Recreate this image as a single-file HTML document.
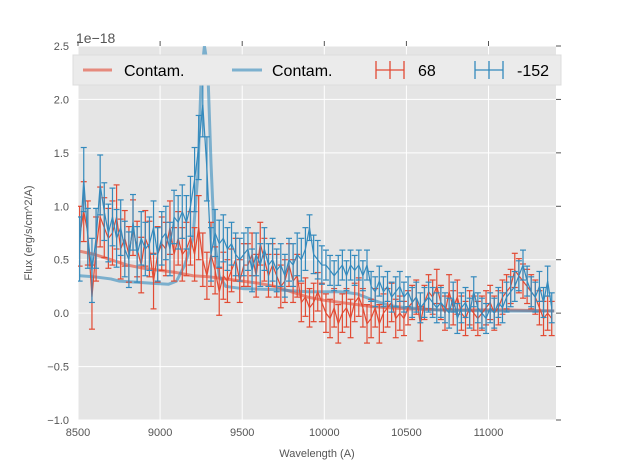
<!DOCTYPE html>
<html><head><meta charset="utf-8"><style>
body{margin:0;background:#fff;font-family:"Liberation Sans",sans-serif}
svg text{font-family:"Liberation Sans",sans-serif}
</style></head><body>
<svg id="chart" width="617" height="467" viewBox="0 0 617 467">
<defs><clipPath id="pc"><rect x="78" y="46" width="478" height="374"/></clipPath></defs>
<rect x="78" y="46" width="478" height="374" fill="#e5e5e5"/>
<g id="grid"></g><g id="axes"></g>
<g id="series" clip-path="url(#pc)"></g>
<text x="76" y="43" font-size="14" fill="#555">1e−18</text>
<text x="317" y="457" font-size="11" fill="#555" text-anchor="middle">Wavelength (A)</text>
<text x="32" y="233" font-size="11" fill="#555" text-anchor="middle" transform="rotate(-90 32 233)">Flux (erg/s/cm^2/A)</text>
<g>
<rect x="73" y="55" width="488" height="30" fill="#ebebeb" stroke="#dddddd"/>
<g><line x1="83" y1="70" x2="112" y2="70" stroke="#E24A33" stroke-opacity="0.6" stroke-width="3"/><text x="124" y="76" font-size="16">Contam.</text></g>
<g><line x1="232" y1="70" x2="262" y2="70" stroke="#348ABD" stroke-opacity="0.6" stroke-width="3"/><text x="272" y="76" font-size="16">Contam.</text></g>
<g stroke="#E24A33" stroke-width="1.3"><line x1="376" y1="70" x2="404" y2="70"/><line x1="390" y1="61" x2="390" y2="79"/><line x1="376" y1="61" x2="376" y2="79"/><line x1="404" y1="61" x2="404" y2="79"/><text x="418" y="76" font-size="16" stroke="none" fill="#000">68</text></g>
<g stroke="#348ABD" stroke-width="1.3"><line x1="475" y1="70" x2="503" y2="70"/><line x1="489" y1="61" x2="489" y2="79"/><line x1="475" y1="61" x2="475" y2="79"/><line x1="503" y1="61" x2="503" y2="79"/><text x="517" y="76" font-size="16" stroke="none" fill="#000">-152</text></g>
</g>
</svg>
<script>
const xTicks=[8500,9000,9500,10000,10500,11000];
const yTicks=[-1.0,-0.5,0.0,0.5,1.0,1.5,2.0,2.5];
const wlStart=8510, wlStep=25;
const red68=[0.72,0.95,0.75,0.15,0.6,0.9,0.8,0.7,0.75,0.9,0.6,0.7,0.55,0.8,0.6,0.45,0.7,0.6,0.3,0.55,0.65,0.6,0.8,0.55,0.7,0.55,0.6,0.7,0.55,0.8,0.5,0.35,0.55,0.4,0.2,0.35,0.3,0.4,0.5,0.3,0.45,0.45,0.55,0.35,0.65,0.5,0.35,0.45,0.35,0.25,0.3,0.45,0.3,0.35,0.1,0.15,0.05,0.1,0.2,0.1,0.0,-0.05,0.05,-0.1,0.0,0.05,-0.05,0.1,0.15,0.05,-0.1,-0.05,0.05,-0.1,0.0,0.05,0.1,-0.05,0.0,-0.05,0.05,0.1,0.15,-0.1,0.1,0.2,0.15,0.25,0.1,0.0,0.2,0.05,0.15,0.0,-0.05,0.05,0.0,-0.05,0.0,0.05,0.1,0.0,0.05,0.15,0.2,0.25,0.4,0.35,0.3,0.25,0.2,0.15,0.05,-0.05,0.0,-0.05];
const red68Err=[0.28,0.28,0.3,0.3,0.3,0.28,0.28,0.28,0.3,0.3,0.28,0.26,0.26,0.26,0.26,0.26,0.26,0.26,0.26,0.26,0.25,0.25,0.25,0.25,0.25,0.25,0.25,0.25,0.25,0.3,0.25,0.22,0.3,0.22,0.22,0.22,0.2,0.2,0.2,0.2,0.2,0.2,0.2,0.2,0.2,0.2,0.2,0.2,0.2,0.2,0.2,0.2,0.2,0.2,0.18,0.18,0.18,0.18,0.18,0.18,0.18,0.18,0.18,0.18,0.18,0.18,0.18,0.18,0.18,0.18,0.18,0.18,0.18,0.18,0.18,0.18,0.18,0.18,0.16,0.16,0.16,0.16,0.16,0.16,0.16,0.16,0.16,0.16,0.16,0.16,0.16,0.16,0.16,0.16,0.16,0.16,0.16,0.16,0.16,0.16,0.16,0.16,0.16,0.16,0.16,0.16,0.16,0.16,0.16,0.16,0.16,0.16,0.16,0.16,0.16,0.16];
const blue152=[0.6,1.25,0.7,0.4,0.7,1.2,0.95,0.75,0.9,0.7,0.8,0.6,0.5,0.85,0.55,0.7,0.6,0.65,0.8,0.55,0.7,0.75,0.6,0.9,0.85,0.95,0.85,1.0,1.25,1.55,1.95,1.35,0.55,0.75,0.65,0.7,0.6,0.65,0.55,0.5,0.55,0.6,0.4,0.55,0.45,0.6,0.45,0.5,0.4,0.45,0.35,0.5,0.45,0.55,0.5,0.6,0.8,0.55,0.5,0.45,0.45,0.4,0.35,0.4,0.45,0.35,0.45,0.4,0.45,0.35,0.45,0.25,0.2,0.3,0.2,0.25,0.15,0.2,0.25,0.15,0.2,0.1,0.15,0.05,0.1,0.15,0.1,0.05,0.1,0.05,0.0,0.15,-0.05,0.05,0.1,0.0,0.2,0.05,0.0,-0.05,0.05,0.0,0.1,0.05,0.15,0.2,0.25,0.35,0.45,0.3,0.2,0.15,0.25,0.1,0.3,0.05];
const blue152Err=[0.3,0.3,0.28,0.3,0.28,0.28,0.27,0.27,0.27,0.27,0.26,0.26,0.26,0.26,0.26,0.25,0.25,0.25,0.25,0.25,0.25,0.25,0.25,0.25,0.25,0.25,0.25,0.28,0.3,0.3,0.3,0.3,0.25,0.22,0.22,0.22,0.2,0.2,0.2,0.2,0.2,0.2,0.2,0.2,0.2,0.2,0.2,0.2,0.2,0.2,0.2,0.2,0.2,0.2,0.2,0.2,0.12,0.18,0.18,0.18,0.14,0.14,0.14,0.14,0.14,0.14,0.14,0.14,0.14,0.14,0.14,0.14,0.14,0.14,0.14,0.14,0.14,0.14,0.14,0.14,0.14,0.14,0.14,0.14,0.14,0.14,0.14,0.14,0.14,0.14,0.14,0.14,0.14,0.14,0.14,0.14,0.14,0.14,0.14,0.14,0.14,0.14,0.14,0.14,0.14,0.14,0.14,0.14,0.14,0.14,0.14,0.14,0.14,0.14,0.14,0.14];
const contamRedWl=[8510,8600,8700,8800,8900,9000,9100,9200,9300,9400,9500,9600,9700,9800,9900,10000,10100,10200,10300,10400,10500,10700,10900,11100,11400];
const contamRedVal=[0.58,0.55,0.5,0.45,0.42,0.4,0.38,0.35,0.34,0.32,0.3,0.28,0.25,0.2,0.15,0.12,0.1,0.08,0.06,0.05,0.04,0.03,0.03,0.03,0.02];
const contamBlueWl=[8510,8600,8700,8750,8850,8950,9050,9100,9150,9200,9230,9250,9270,9290,9310,9330,9360,9400,9500,9700,9800,9900,10000,10100,10200,10300,10400,10500,10700,11000,11400];
const contamBlueVal=[0.35,0.34,0.32,0.3,0.29,0.28,0.27,0.3,0.45,0.7,1.3,2.2,2.5,2.3,1.4,0.7,0.35,0.25,0.23,0.22,0.21,0.2,0.2,0.2,0.18,0.12,0.07,0.05,0.03,0.02,0.02];

const X0=78,X1=556,Y0=420,Y1=46;
const xS=v=>X0+(v-8500)/(11411-8500)*(X1-X0);
const yS=v=>Y0-(v+1.0)/3.5*(Y0-Y1);
const NS="http://www.w3.org/2000/svg";
function mk(tag,attrs,parent){const e=document.createElementNS(NS,tag);for(const k in attrs)e.setAttribute(k,attrs[k]);parent.appendChild(e);return e;}
const grid=document.getElementById('grid'),axes=document.getElementById('axes'),ser=document.getElementById('series');
xTicks.forEach(t=>{const x=xS(t);
 const g=mk('line',{x1:x,x2:x,y1:Y1,y2:Y0,stroke:'#fff','stroke-width':1},grid);
 
 
 mk('line',{x1:x,x2:x,y1:Y1,y2:Y1-5,stroke:'#555'},axes);
 const tx=mk('text',{x:x,y:Y0+16,'font-size':11,fill:'#555','text-anchor':'middle'},axes);tx.textContent=t;
 
 });
yTicks.forEach(t=>{const y=yS(t);
 const g=mk('line',{x1:X0,x2:X1,y1:y,y2:y,stroke:'#fff','stroke-width':1},grid);
 
 
 mk('line',{x1:X1,x2:X1+5,y1:y,y2:y,stroke:'#555'},axes);
 const tx=mk('text',{x:X0-9,y:y+4,'font-size':11,fill:'#555','text-anchor':'end'},axes);tx.textContent=(t<0?'−':'')+Math.abs(t).toFixed(1);
 
 });
function line(wl,val,color,name){const p=mk('polyline',{points:wl.map((w,i)=>xS(w)+','+yS(val[i])).join(' '),fill:'none',stroke:color,'stroke-opacity':0.6,'stroke-width':3,'stroke-linejoin':'round'},ser);
 
 }
line(contamRedWl,contamRedVal,'#E24A33','contam-line-68');
line(contamBlueWl,contamBlueVal,'#348ABD','contam-line-152');
function eb(val,err,color,name){const g=mk('g',{stroke:color,'stroke-width':1.2,fill:'none'},ser);
 
 
 const pts=[];
 val.forEach((v,i)=>{const x=xS(wlStart+wlStep*i);pts.push(x+','+yS(v));
  const a=yS(v+err[i]),b=yS(v-err[i]);
  mk('line',{x1:x,x2:x,y1:a,y2:b},g);mk('line',{x1:x-3,x2:x+3,y1:a,y2:a},g);mk('line',{x1:x-3,x2:x+3,y1:b,y2:b},g);});
 mk('polyline',{points:pts.join(' ')},g);}
eb(red68,red68Err,'#E24A33','errorbar-series-68');
eb(blue152,blue152Err,'#348ABD','errorbar-series-152');
</script>
</body></html>
